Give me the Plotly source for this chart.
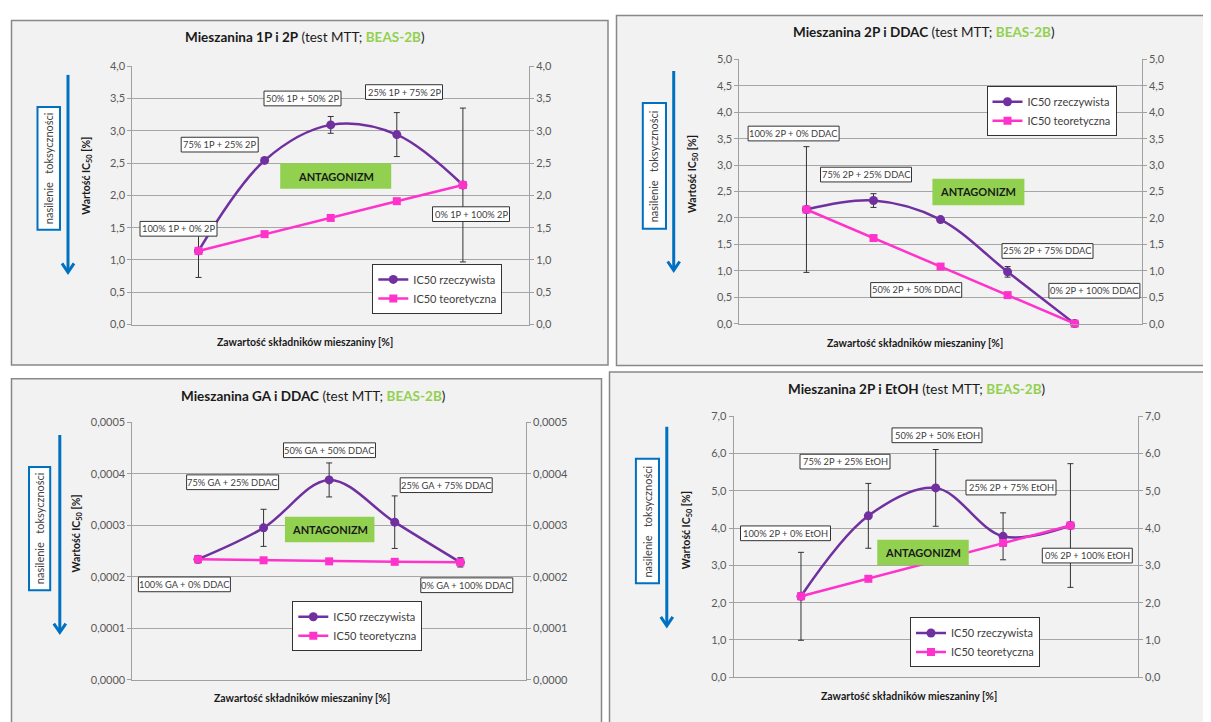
import plotly.graph_objects as go

W, H = 1211, 722
OFF = 8  # page body margin offset

# ---------------- data ----------------
cats1 = ["100% 1P + 0% 2P", "75% 1P + 25% 2P", "50% 1P + 50% 2P", "25% 1P + 75% 2P", "0% 1P + 100% 2P"]
real1 = [1.14, 2.54, 3.09, 2.94, 2.16]
err1 = [0.41, 0.02, 0.13, 0.34, 1.19]
theo1 = [1.14, 1.40, 1.65, 1.91, 2.16]

cats2 = ["100% 2P + 0% DDAC", "75% 2P + 25% DDAC", "50% 2P + 50% DDAC", "25% 2P + 75% DDAC", "0% 2P + 100% DDAC"]
real2 = [2.16, 2.33, 1.97, 0.98, 0.000228]
err2 = [1.19, 0.13, 0.03, 0.10, 0.00001]
theo2 = [2.16, 1.62, 1.08, 0.54, 0.000228]

cats3 = ["100% GA + 0% DDAC", "75% GA + 25% DDAC", "50% GA + 50% DDAC", "25% GA + 75% DDAC", "0% GA + 100% DDAC"]
real3 = [0.000234, 0.000295, 0.000388, 0.000306, 0.000228]
err3 = [0.000007, 0.000036, 0.000033, 0.000051, 0.000009]
theo3 = [0.000234, 0.000232, 0.000230, 0.000229, 0.000228]

cats4 = ["100% 2P + 0% EtOH", "75% 2P + 25% EtOH", "50% 2P + 50% EtOH", "25% 2P + 75% EtOH", "0% 2P + 100% EtOH"]
real4 = [2.17, 4.33, 5.08, 3.78, 4.07]
err4 = [1.18, 0.87, 1.03, 0.63, 1.66]
theo4 = [2.17, 2.64, 3.12, 3.60, 4.07]

titles = ["Mieszanina 1P i 2P", "Mieszanina 2P i DDAC", "Mieszanina GA i DDAC", "Mieszanina 2P i EtOH"]
series_names = ["IC50 rzeczywista", "IC50 teoretyczna"]
y_ranges = [[0, 4.0], [0, 5.0], [0, 0.0005], [0, 7.0]]
y_dticks = [0.5, 0.5, 0.0001, 1.0]
y_formats = [".1f", ".1f", ".4f", ".1f"]

# ---------------- style / layout (pixels) ----------------
PURPLE = "#7030a0"
PINK = "#ff33cc"
GREEN = "#92d050"
BLUE = "#0070c0"
FONT = "Lato"


def fx(x):
    return (x - OFF) / W


def fy(y):
    return 1 - (y - OFF) / H


panels = [
    dict(cats=cats1, real=real1, err=err1, theo=theo1,
         box=(11.5, 13.5, 608, 364.5), plot=(132.4, 60, 529, 323.3),
         title=(305, 30.7), xtitle=(305.4, 340.7), ytitle=(87, 171.7),
         bluebox=(37.5, 101.7, 60, 226.7), arrow=(68, 69, 270),
         labels=[(178.5, 225.7), (219.7, 140), (302.5, 93), (404, 86.5), (471, 210.8)], lw=77,
         ant=(335.7, 172, 111, 26), legend=(372.3, 261.5)),
    dict(cats=cats2, real=real2, err=err2, theo=theo2,
         box=(616.5, 8.5, 1225, 365), plot=(739.4, 53.3, 1141.7, 322.3),
         title=(923.5, 25), xtitle=(914.5, 341.7), ytitle=(693, 170),
         bluebox=(642.8, 97.7, 666, 225.7), arrow=(673.7, 65, 268),
         labels=[(793.6, 128.7), (866, 170.5), (916.2, 288), (1047.5, 248.3), (1094.4, 288.8)], lw=91,
         ant=(978.4, 188.2, 92, 27), legend=(986.5, 80.5)),
    dict(cats=cats3, real=real3, err=err3, theo=theo3,
         box=(11.5, 378.5, 601.5, 740), plot=(132.4, 422.7, 525.9, 685),
         title=(312.7, 395.7), xtitle=(302, 704), ytitle=(77.2, 535.8),
         bluebox=(29, 468.3, 50.2, 593.7), arrow=(59.8, 435.7, 636.7),
         labels=[(184.4, 587.8), (232.6, 483.8), (329.5, 451.2), (446.2, 486.8), (466.8, 588.7)], lw=92,
         ant=(329.7, 532, 89.5, 26), legend=(292.3, 605)),
    dict(cats=cats4, real=real4, err=err4, theo=theo4,
         box=(609.5, 371.5, 1225, 740), plot=(733.6, 416.7, 1137.8, 682.3),
         title=(916.4, 389), xtitle=(909.4, 701.7), ytitle=(686.9, 532.7),
         bluebox=(635.9, 460, 659, 586.7), arrow=(666.8, 427.3, 630),
         labels=[(785.5, 535.8), (845, 462.8), (937, 436), (1011, 489.2), (1087.3, 558.5)], lw=90,
         ant=(923, 555.3, 91.5, 26), legend=(910, 621.5)),
]

fig = go.Figure()
layout = dict(
    width=W, height=H, margin=dict(l=0, r=0, t=0, b=0),
    paper_bgcolor="white", plot_bgcolor="white",
    separators=", ", font=dict(family=FONT, size=11, color="#404040"),
    showlegend=True, shapes=[], annotations=[],
)


def rect(x0, y0, x1, y1, fill, line_color, line_width, layer):
    return dict(type="rect", xref="paper", yref="paper",
                x0=fx(x0), x1=fx(x1), y0=fy(y1), y1=fy(y0),
                fillcolor=fill, line=dict(color=line_color, width=line_width), layer=layer)


for i, p in enumerate(panels):
    k = i + 1
    xname = "x" if k == 1 else f"x{k}"
    yl_idx = 2 * k - 1
    yr_idx = 2 * k
    ylname = "y" if yl_idx == 1 else f"y{yl_idx}"
    yrname = f"y{yr_idx}"
    legname = "legend" if k == 1 else f"legend{k}"

    x0, y0, x1, y1 = p["plot"]
    xdom = [fx(x0), fx(x1)]
    ydom = [fy(y1), fy(y0)]

    # panel background
    bx0, by0, bx1, by1 = p["box"]
    layout["shapes"].append(rect(bx0, by0, bx1, by1, "#f2f2f2", "#888888", 1.5, "below"))

    axis_common = dict(range=y_ranges[i], dtick=y_dticks[i], tick0=0, tickformat=y_formats[i],
                       showline=True, linecolor="#a0a0a0", linewidth=1,
                       ticks="outside", ticklen=4, tickcolor="#a0a0a0",
                       tickfont=dict(family=FONT, size=11, color="#595959"),
                       zeroline=False, fixedrange=True)
    layout["xaxis" if k == 1 else f"xaxis{k}"] = dict(
        domain=xdom, anchor=ylname, type="category", categoryarray=p["cats"],
        range=[-1, 5], showticklabels=False, ticks="", showgrid=False, zeroline=False,
        showline=True, linecolor="#a0a0a0", linewidth=1)
    layout["yaxis" if yl_idx == 1 else f"yaxis{yl_idx}"] = dict(
        domain=ydom, anchor=xname, side="left", showgrid=True, gridcolor="#a6a6a6",
        gridwidth=1, **axis_common)
    layout[f"yaxis{yr_idx}"] = dict(
        anchor=xname, overlaying=ylname, side="right", showgrid=False, **axis_common)

    fig.add_trace(go.Scatter(
        x=p["cats"], y=p["real"], mode="lines+markers", name=series_names[0],
        xaxis=xname, yaxis=ylname, legend=legname,
        line=dict(color=PURPLE, width=2.5, shape="spline", smoothing=1),
        marker=dict(symbol="circle", size=9, color=PURPLE),
        error_y=dict(type="data", array=p["err"], color="#333333", thickness=1, width=3),
        cliponaxis=False))
    fig.add_trace(go.Scatter(
        x=p["cats"], y=p["theo"], mode="lines+markers", name=series_names[1],
        xaxis=xname, yaxis=ylname, legend=legname,
        line=dict(color=PINK, width=2.5),
        marker=dict(symbol="square", size=8, color=PINK),
        cliponaxis=False))
    fig.add_trace(go.Scatter(
        x=[p["cats"][0]], y=[None], xaxis=xname, yaxis=yrname,
        showlegend=False, hoverinfo="skip", mode="markers"))

    lx, ly = p["legend"]
    layout[legname] = dict(x=fx(lx), y=fy(ly), xanchor="left", yanchor="top",
                           bgcolor="white", bordercolor="#333333", borderwidth=1,
                           font=dict(family=FONT, size=11, color="#404040"),
                           tracegroupgap=0, itemwidth=30)

    ann = layout["annotations"]
    tx, ty = p["title"]
    ann.append(dict(xref="paper", yref="paper", x=fx(tx), y=fy(ty), showarrow=False,
                    xanchor="center", yanchor="middle",
                    text=f"<b>{titles[i]}</b> (test MTT; <b><span style='color:{GREEN}'>BEAS-2B</span></b>)",
                    font=dict(family=FONT, size=13.5, color="#1a1a1a")))
    tx, ty = p["xtitle"]
    ann.append(dict(xref="paper", yref="paper", x=fx(tx), y=fy(ty), showarrow=False,
                    xanchor="center", yanchor="middle",
                    text="<b>Zawartość składników mieszaniny [%]</b>",
                    font=dict(family=FONT, size=10.5, color="#1a1a1a")))
    tx, ty = p["ytitle"]
    ann.append(dict(xref="paper", yref="paper", x=fx(tx), y=fy(ty), showarrow=False,
                    xanchor="center", yanchor="middle", textangle=-90,
                    text="<b>Wartość IC<sub>50</sub> [%]</b>",
                    font=dict(family=FONT, size=10.5, color="#1a1a1a")))

    # blue box with rotated text
    b0, b1, b2, b3 = p["bluebox"]
    layout["shapes"].append(rect(b0, b1, b2, b3, "white", BLUE, 2, "above"))
    ann.append(dict(xref="paper", yref="paper", x=fx((b0 + b2) / 2), y=fy((b1 + b3) / 2),
                    showarrow=False, xanchor="center", yanchor="middle", textangle=-90,
                    text="nasilenie&nbsp;&nbsp; toksyczności",
                    font=dict(family=FONT, size=11, color="#404040")))

    # blue arrow (shaft + open head)
    axx, ay0, ay1 = p["arrow"]
    layout["shapes"].append(dict(type="line", xref="paper", yref="paper",
                                 x0=fx(axx), x1=fx(axx), y0=fy(ay0), y1=fy(ay1 - 1),
                                 line=dict(color=BLUE, width=3)))
    layout["shapes"].append(dict(type="path", xref="paper", yref="paper",
                                 path=f"M {fx(axx - 6)} {fy(ay1 - 9)} L {fx(axx)} {fy(ay1)} L {fx(axx + 6)} {fy(ay1 - 9)}",
                                 line=dict(color=BLUE, width=3)))

    # category labels (boxed)
    hw = p["lw"] / 2
    for (lxp, lyp), txt in zip(p["labels"], p["cats"]):
        layout["shapes"].append(rect(lxp - hw, lyp - 7.5, lxp + hw, lyp + 7.5, "white", "#333333", 1, "above"))
        ann.append(dict(xref="paper", yref="paper", x=fx(lxp), y=fy(lyp), showarrow=False,
                        xanchor="center", yanchor="middle", text=txt,
                        font=dict(family=FONT, size=9.3, color="#404040")))

    # ANTAGONIZM box
    axc, ayc, aw, ah = p["ant"]
    layout["shapes"].append(rect(axc - aw / 2, ayc - ah / 2, axc + aw / 2, ayc + ah / 2,
                                 GREEN, GREEN, 0, "above"))
    ann.append(dict(xref="paper", yref="paper", x=fx(axc), y=fy(ayc), showarrow=False,
                    xanchor="center", yanchor="middle", text="<b>ANTAGONIZM</b>",
                    font=dict(family=FONT, size=11, color="#1a1a1a")))

fig.update_layout(**layout)
fig.write_html("out.html")
